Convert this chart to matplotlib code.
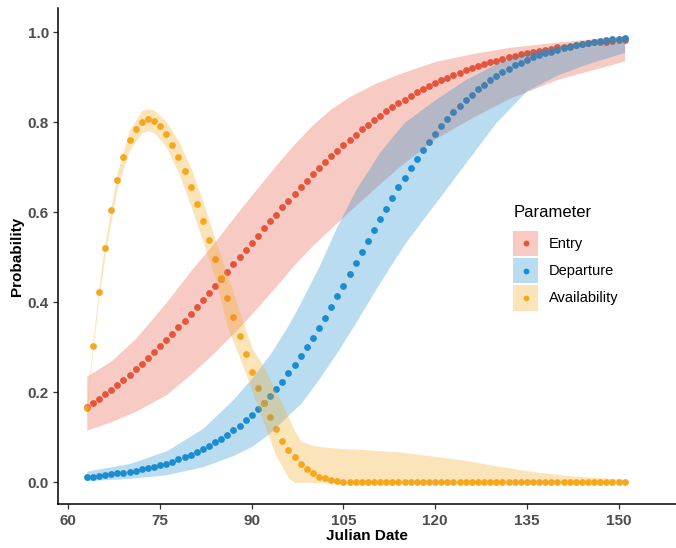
import numpy as np
import matplotlib
matplotlib.use("Agg")
import matplotlib.pyplot as plt
from matplotlib.patches import Rectangle
from matplotlib.lines import Line2D
from matplotlib.legend_handler import HandlerBase

plt.rcParams['font.family'] = ['Liberation Sans', 'DejaVu Sans']

# daily estimates, Julian date 63..151
days = np.arange(63, 152)

entry = [0.167, 0.176, 0.186, 0.196, 0.206, 0.217, 0.228, 0.239, 0.251, 0.263,
         0.276, 0.289, 0.303, 0.316, 0.330, 0.345, 0.359, 0.374, 0.389, 0.405,
         0.420, 0.436, 0.452, 0.468, 0.484, 0.500, 0.516, 0.532, 0.548, 0.564,
         0.580, 0.595, 0.611, 0.626, 0.641, 0.656, 0.670, 0.684, 0.698, 0.711,
         0.724, 0.737, 0.749, 0.761, 0.772, 0.784, 0.794, 0.805, 0.814, 0.824,
         0.833, 0.842, 0.850, 0.858, 0.866, 0.873, 0.880, 0.887, 0.893, 0.899,
         0.905, 0.910, 0.915, 0.920, 0.925, 0.929, 0.933, 0.937, 0.941, 0.944,
         0.948, 0.951, 0.953, 0.956, 0.959, 0.961, 0.963, 0.966, 0.968, 0.970,
         0.972, 0.973, 0.975, 0.977, 0.978, 0.979, 0.981, 0.982, 0.983]

departure = [0.012, 0.013, 0.015, 0.016, 0.018, 0.020, 0.022, 0.024, 0.026, 0.029,
             0.032, 0.035, 0.038, 0.042, 0.046, 0.051, 0.056, 0.061, 0.067, 0.074,
             0.081, 0.089, 0.097, 0.106, 0.116, 0.126, 0.138, 0.150, 0.163, 0.177,
             0.192, 0.207, 0.224, 0.242, 0.260, 0.280, 0.300, 0.321, 0.343, 0.366,
             0.389, 0.413, 0.437, 0.462, 0.487, 0.511, 0.536, 0.560, 0.585, 0.608,
             0.632, 0.655, 0.677, 0.698, 0.718, 0.738, 0.757, 0.774, 0.791, 0.807,
             0.822, 0.836, 0.849, 0.861, 0.873, 0.883, 0.893, 0.902, 0.911, 0.918,
             0.926, 0.932, 0.938, 0.944, 0.949, 0.953, 0.957, 0.961, 0.965, 0.968,
             0.971, 0.974, 0.976, 0.978, 0.980, 0.982, 0.984, 0.985, 0.987]

availability = [0.166, 0.303, 0.422, 0.520, 0.604, 0.672, 0.723, 0.760, 0.786, 0.801,
                0.806, 0.802, 0.791, 0.774, 0.750, 0.723, 0.691, 0.657, 0.619, 0.580,
                0.538, 0.496, 0.453, 0.410, 0.367, 0.326, 0.286, 0.246, 0.210, 0.177,
                0.146, 0.118, 0.093, 0.073, 0.056, 0.041, 0.029, 0.020, 0.013, 0.009,
                0.006, 0.004, 0.002, 0.001, 0.001, 0.000, 0.000, 0.000, 0.000, 0.000,
                0.000, 0.000, 0.000, 0.000, 0.000, 0.000, 0.000, 0.000, 0.000, 0.000,
                0.000, 0.000, 0.000, 0.000, 0.000, 0.000, 0.000, 0.000, 0.000, 0.000,
                0.000, 0.000, 0.000, 0.000, 0.000, 0.000, 0.000, 0.000, 0.000, 0.000,
                0.000, 0.000, 0.000, 0.000, 0.000, 0.000, 0.000, 0.000, 0.000]

# confidence ribbons
entry_band_days = [63, 67, 71, 76, 80, 84, 88, 91, 94, 97, 100, 103, 106, 110, 114,
                   120, 126, 132, 140, 151]
entry_lower = [0.116, 0.135, 0.158, 0.195, 0.240, 0.290, 0.345, 0.390, 0.436, 0.484,
               0.527, 0.565, 0.603, 0.652, 0.700, 0.763, 0.810, 0.852, 0.895, 0.936]
entry_upper = [0.236, 0.270, 0.320, 0.400, 0.470, 0.535, 0.605, 0.655, 0.705, 0.752,
               0.795, 0.830, 0.857, 0.885, 0.907, 0.935, 0.952, 0.966, 0.978, 0.992]

dep_band_days = [63, 70, 76, 82, 87, 90, 93, 96, 98, 101, 104, 107, 111, 115, 120,
                 125, 130, 135, 140, 145, 151]
dep_lower = [0.004, 0.009, 0.017, 0.035, 0.060, 0.080, 0.110, 0.150, 0.175, 0.230, 0.290,
             0.355, 0.445, 0.530, 0.620, 0.710, 0.800, 0.870, 0.905, 0.930, 0.955]
dep_upper = [0.025, 0.042, 0.070, 0.120, 0.185, 0.232, 0.285, 0.350, 0.400, 0.480, 0.570,
             0.650, 0.735, 0.800, 0.850, 0.895, 0.930, 0.955, 0.970, 0.980, 0.990]

avail_band_days = [63, 64, 65, 66, 68, 70, 72, 73, 74, 76, 78, 80, 82, 84, 86, 88, 90,
                   92, 94, 96, 97, 98, 100, 103, 108, 114, 120, 125, 130, 136, 142, 151]
avail_lower = [0.158, 0.293, 0.410, 0.506, 0.655, 0.738, 0.776, 0.781, 0.777, 0.745,
               0.688, 0.615, 0.535, 0.455, 0.345, 0.278, 0.205, 0.130, 0.058, 0.010,
               0.0, 0.0, 0.0, 0.0, 0.0, 0.0, 0.0, 0.0, 0.0, 0.0, 0.0, 0.0]
avail_upper = [0.174, 0.313, 0.434, 0.534, 0.689, 0.783, 0.826, 0.830, 0.827, 0.802,
               0.758, 0.700, 0.625, 0.540, 0.460, 0.380, 0.300, 0.255, 0.200, 0.145,
               0.115, 0.092, 0.082, 0.077, 0.073, 0.068, 0.058, 0.049, 0.037, 0.024,
               0.015, 0.007]

labels = ['Entry', 'Departure', 'Availability']
colors = ['#E5553B', '#1A8CD0', '#F6A81C']


class KeyHandler(HandlerBase):
    # ggplot-like key: shaded square with a dot in the middle
    def create_artists(self, legend, orig_handle, xdescent, ydescent,
                       width, height, fontsize, trans):
        col = orig_handle.get_color()
        rect = Rectangle((-xdescent, -ydescent), width, height, facecolor=col,
                         alpha=0.3, edgecolor='none', transform=trans)
        dot = Line2D([-xdescent + width / 2], [-ydescent + height / 2], marker='o',
                     ls='', color=col, markersize=4.2, markeredgewidth=0,
                     transform=trans)
        return [rect, dot]


fig = plt.figure(figsize=(6.76, 5.48), dpi=100)
ax = fig.add_axes([0.0858, 0.0794, 0.9142, 0.9055])

series = [entry, departure, availability]
bands = [(entry_band_days, entry_lower, entry_upper),
         (dep_band_days, dep_lower, dep_upper),
         (avail_band_days, avail_lower, avail_upper)]

for vals, col in zip(series, colors):
    ax.scatter(days, vals, s=24, color=col, linewidths=0, zorder=2)
for (bx, lo, hi), col in zip(bands, colors):
    ax.fill_between(bx, lo, hi, color=col, alpha=0.3, linewidth=0, zorder=3)

ax.set_xlim(58.3, 159.4)
ax.set_ylim(-0.049, 1.053)
ax.set_xticks([60, 75, 90, 105, 120, 135, 150])
ax.set_yticks([0.0, 0.2, 0.4, 0.6, 0.8, 1.0])
ax.set_yticklabels(['0.0', '0.2', '0.4', '0.6', '0.8', '1.0'])

for s in ['top', 'right']:
    ax.spines[s].set_visible(False)
for s in ['left', 'bottom']:
    ax.spines[s].set_linewidth(1.1)
    ax.spines[s].set_color('black')

ax.tick_params(length=3.5, width=0.9, color='#333333', labelsize=11,
               labelcolor='#4D4D4D', pad=3)
for lab in ax.get_xticklabels() + ax.get_yticklabels():
    lab.set_fontweight('bold')

ax.set_xlabel('Julian Date', fontsize=11, fontweight='bold', labelpad=1)
ax.set_ylabel('Probability', fontsize=11, fontweight='bold', labelpad=3)

key_handles = [Line2D([], [], color=c) for c in colors]
ax.legend(key_handles, labels, handler_map={Line2D: KeyHandler()},
          fontsize=10.5, frameon=False, handlelength=1.72, handleheight=2.3,
          labelspacing=0.13, handletextpad=0.7, borderpad=0, borderaxespad=0,
          loc='upper left', bbox_to_anchor=(0.7593, 0.579),
          bbox_transform=fig.transFigure)
fig.text(0.7593, 1 - 213 / 548, 'Parameter', fontsize=12, va='center', ha='left')

fig.savefig('out.png', dpi=100)
